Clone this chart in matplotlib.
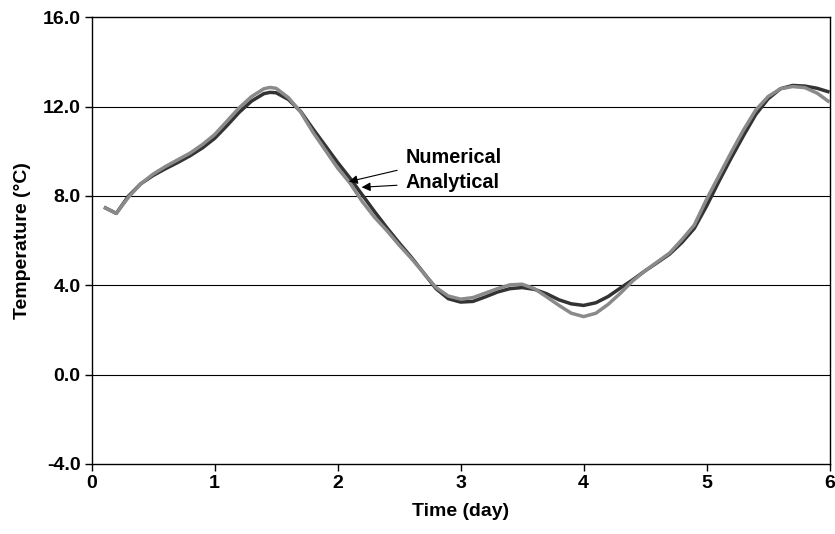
import matplotlib
matplotlib.use("Agg")
import matplotlib.pyplot as plt
from matplotlib.ticker import FormatStrFormatter

plt.rcParams['font.family'] = ['Liberation Sans', 'DejaVu Sans']

time_day = [0.1, 0.2, 0.3, 0.4, 0.5, 0.6, 0.7, 0.8, 0.9, 1.0,
            1.1, 1.2, 1.3, 1.4, 1.45, 1.5, 1.6, 1.7, 1.8, 1.9,
            2.0, 2.1, 2.2, 2.3, 2.4, 2.5, 2.6, 2.7, 2.8, 2.9,
            3.0, 3.1, 3.2, 3.3, 3.4, 3.5, 3.6, 3.7, 3.8, 3.9,
            4.0, 4.1, 4.2, 4.3, 4.4, 4.5, 4.6, 4.7, 4.8, 4.9,
            5.0, 5.1, 5.2, 5.3, 5.4, 5.5, 5.6, 5.7, 5.8, 5.9, 6.0]

analytical = [7.50, 7.22, 7.95, 8.55, 8.98, 9.32, 9.62, 9.92, 10.30, 10.75,
              11.35, 11.95, 12.45, 12.80, 12.86, 12.82, 12.40, 11.75, 10.85, 10.05,
              9.25, 8.58, 7.75, 7.05, 6.45, 5.80, 5.20, 4.55, 3.90, 3.52,
              3.38, 3.45, 3.65, 3.85, 4.02, 4.05, 3.85, 3.48, 3.10, 2.75,
              2.60, 2.75, 3.15, 3.65, 4.20, 4.65, 5.05, 5.45, 6.05, 6.70,
              7.85, 8.90, 9.95, 10.95, 11.85, 12.45, 12.80, 12.90, 12.85, 12.60, 12.20]

numerical = [7.50, 7.22, 8.00, 8.55, 8.92, 9.22, 9.50, 9.80, 10.15, 10.58,
             11.15, 11.75, 12.25, 12.58, 12.64, 12.62, 12.32, 11.78, 11.00, 10.25,
             9.50, 8.80, 8.05, 7.30, 6.58, 5.90, 5.25, 4.55, 3.85, 3.40,
             3.25, 3.28, 3.48, 3.70, 3.85, 3.90, 3.82, 3.62, 3.35, 3.17,
             3.10, 3.22, 3.50, 3.88, 4.25, 4.65, 5.02, 5.40, 5.92, 6.55,
             7.55, 8.65, 9.70, 10.70, 11.65, 12.35, 12.80, 12.95, 12.92, 12.82, 12.65]

x_ticks = [0, 1, 2, 3, 4, 5, 6]
y_ticks = [-4.0, 0.0, 4.0, 8.0, 12.0, 16.0]

fig = plt.figure(figsize=(8.35, 5.34), dpi=100)
ax = fig.add_axes([0.1098, 0.1311, 0.8837, 0.8365])

for y in y_ticks[1:-1]:
    ax.axhline(y, color='black', lw=0.8, zorder=1)

ax.plot(time_day, numerical, color='#333333', lw=2.5, zorder=3,
        solid_capstyle='butt', solid_joinstyle='round')
ax.plot(time_day, analytical, color='#8a8a8a', lw=2.5, zorder=4,
        solid_capstyle='butt', solid_joinstyle='round')

ax.set_xlim(0, 6)
ax.set_ylim(-4, 16)
ax.set_xticks(x_ticks)
ax.set_yticks(y_ticks)
ax.yaxis.set_major_formatter(FormatStrFormatter('%.1f'))
ax.tick_params(axis='both', direction='out', length=5, width=1, labelsize=14, pad=3)
for lbl in ax.get_xticklabels() + ax.get_yticklabels():
    lbl.set_fontweight('bold')
for s in ax.spines.values():
    s.set_linewidth(1.0)
    s.set_color('black')

ax.set_xlabel('Time (day)', fontsize=14, fontweight='bold', labelpad=8)
ax.set_ylabel('Temperature (\u00b0C)', fontsize=14, fontweight='bold', labelpad=8)

ax.annotate('Numerical', xy=(2.09, 8.64), xytext=(2.55, 9.74),
            fontsize=14.3, fontweight='bold', va='center', ha='left',
            arrowprops=dict(arrowstyle='-|>', color='black', lw=0.8,
                            mutation_scale=13, shrinkA=4, shrinkB=0), zorder=6)
ax.annotate('Analytical', xy=(2.195, 8.39), xytext=(2.55, 8.62),
            fontsize=14.3, fontweight='bold', va='center', ha='left',
            arrowprops=dict(arrowstyle='-|>', color='black', lw=0.8,
                            mutation_scale=13, shrinkA=4, shrinkB=0), zorder=6)

fig.savefig('out.png', dpi=100)
